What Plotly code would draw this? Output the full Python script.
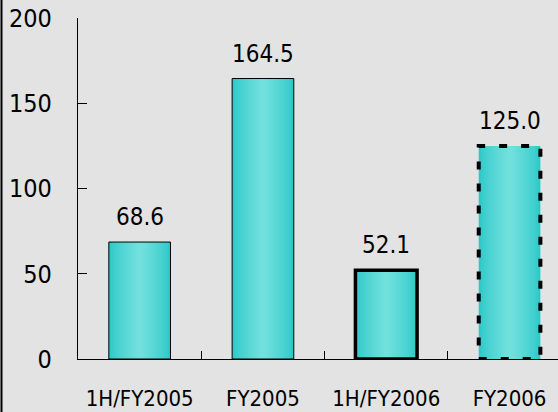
import plotly.graph_objects as go

categories = ["1H/FY2005", "FY2005", "1H/FY2006", "FY2006"]
values = [68.6, 164.5, 52.1, 125.0]
y_ticks = [0, 50, 100, 150, 200]
outline_widths = [1, 1, 3.5, 0]

FONT = "DejaVu Sans Condensed, Liberation Sans Narrow, Arial Narrow, sans-serif"
BG = "#e3e3e3"

fig = go.Figure()

# Horizontal gradient simulated by layered, narrowing bars
edge = (46, 200, 200)
center = (114, 225, 221)
n_layers = 14
bar_w = 0.5
for k in range(n_layers):
    t = k / (n_layers - 1)
    col = tuple(int(round(edge[i] + (center[i] - edge[i]) * t ** 0.8)) for i in range(3))
    w = bar_w * (1 - k / n_layers)
    fig.add_trace(go.Bar(
        x=categories, y=values, width=w,
        marker=dict(color="rgb(%d,%d,%d)" % col, line=dict(width=0)),
        hoverinfo="skip", showlegend=False,
    ))

# Outlines
fig.add_trace(go.Bar(
    x=categories, y=values, width=bar_w,
    marker=dict(color="rgba(0,0,0,0)",
                line=dict(color="black", width=outline_widths)),
    showlegend=False,
))

# Dashed outline for forecast bar
idx = 3
fig.add_shape(type="rect", xref="x", yref="y",
              x0=idx - bar_w / 2, x1=idx + bar_w / 2, y0=0, y1=values[idx],
              line=dict(color="black", width=4, dash="8px,14px"))

# Value labels
for c, v in zip(categories, values):
    fig.add_annotation(x=c, y=v, text=f"{v:.1f}", showarrow=False,
                       yanchor="bottom", yshift=9,
                       font=dict(family=FONT, size=24, color="black"))

# Left frame line
fig.add_shape(type="line", xref="paper", yref="paper",
              x0=-76.5 / 480, x1=-76.5 / 480, y0=-53 / 341, y1=18 / 341 + 1,
              line=dict(color="black", width=2))

plot_w = 480
cat_w = 123.3
fig.update_layout(
    width=558, height=412,
    margin=dict(l=78, r=0, t=18, b=53, autoexpand=False),
    paper_bgcolor=BG, plot_bgcolor=BG,
    barmode="overlay", bargap=0.5,
    font=dict(family=FONT, color="black"),
    xaxis=dict(
        range=[-0.5, -0.5 + plot_w / cat_w], automargin=False,
        showline=True, linecolor="black", linewidth=1.2,
        ticks="inside", ticklen=8, tickcolor="black", tickwidth=1,
        tickson="boundaries", showgrid=False, tickangle=0,
        tickfont=dict(size=22, family=FONT), ticklabelstandoff=19,
    ),
    yaxis=dict(
        range=[0, 200], tickvals=y_ticks, automargin=False,
        showline=True, linecolor="black", linewidth=1.2,
        ticks="inside", ticklen=9, tickcolor="black", tickwidth=1.2,
        showgrid=False, zeroline=False,
        tickfont=dict(size=25, family=FONT), ticklabelstandoff=20,
    ),
)

fig.write_html("out.html")
